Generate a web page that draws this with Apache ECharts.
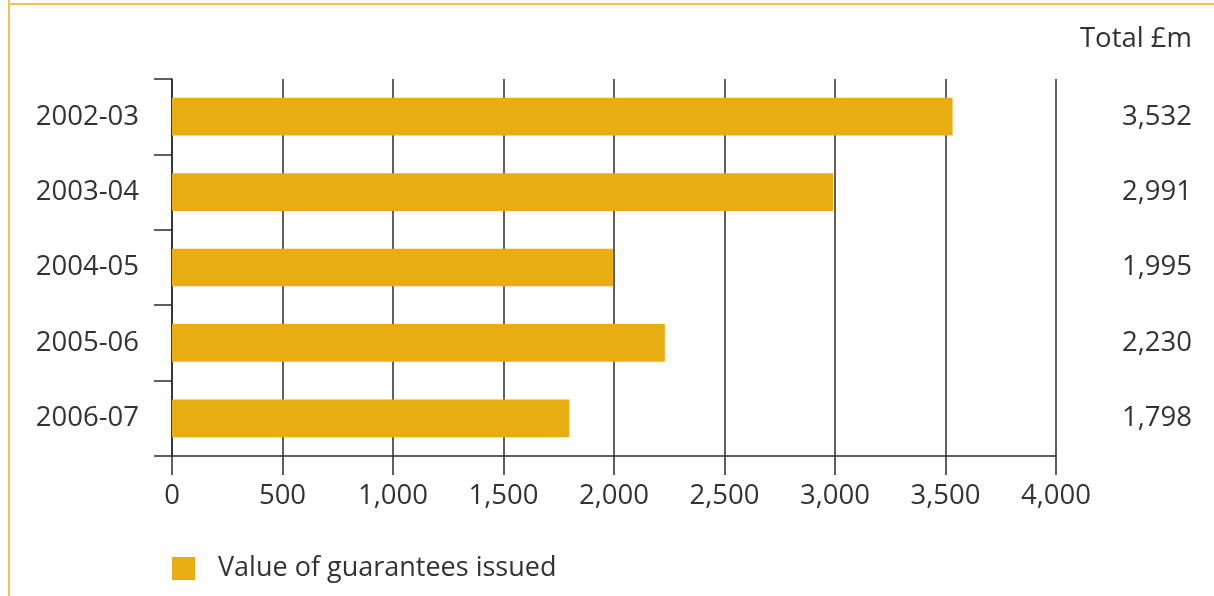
<!DOCTYPE html>
<html>
<head>
<meta charset="utf-8">
<script src="https://cdn.jsdelivr.net/npm/echarts@6/dist/echarts.min.js"></script>
<style>
html,body{margin:0;padding:0;background:#fff;}
#c{width:1214px;height:596px;}
</style>
</head>
<body>
<div id="c"></div>
<script>
const categories = ['2002-03', '2003-04', '2004-05', '2005-06', '2006-07'];
const values = [3532, 2991, 1995, 2230, 1798];
const seriesName = 'Value of guarantees issued';
const totalHeader = 'Total £m';
const xMin = 0, xMax = 4000, xInterval = 500;

const fmt = v => v.toLocaleString('en-GB');
const totals = values.map(fmt);

const FONT = '"Open Sans", "Noto Sans", sans-serif';
const TXT = '#333333';
const LINE = '#2b2b2b';
const BAR = '#E8AD11';
const FRAME = '#EFC253';
const FS = 27.5;

const chart = echarts.init(document.getElementById('c'), null, {renderer: 'canvas'});
chart.setOption({
  animation: false,
  backgroundColor: '#ffffff',
  textStyle: {fontFamily: FONT},
  title: {
    text: totalHeader,
    right: 17,
    top: 20,
    padding: 5,
    textStyle: {fontFamily: FONT, fontSize: FS, fontWeight: 'normal', color: TXT}
  },
  legend: {
    data: [seriesName],
    left: 167,
    top: 550,
    icon: 'rect',
    itemWidth: 23,
    itemHeight: 23,
    textStyle: {fontFamily: FONT, fontSize: 27, color: TXT, padding: [0, 0, 0, 18]}
  },
  grid: {left: 172, right: 158, top: 79, bottom: 140, containLabel: false},
  xAxis: {
    type: 'value',
    min: xMin, max: xMax, interval: xInterval,
    axisLine: {show: true, lineStyle: {color: LINE, width: 1.5}},
    axisTick: {show: true, length: 19, lineStyle: {color: LINE, width: 1.5}},
    axisLabel: {margin: 26, fontFamily: FONT, fontSize: FS, color: TXT, formatter: v => fmt(v)},
    splitLine: {show: true, lineStyle: {color: LINE, width: 1.5}}
  },
  yAxis: [{
    type: 'category',
    data: categories,
    inverse: true,
    axisLine: {show: true, lineStyle: {color: LINE, width: 1.5}},
    axisTick: {show: true, length: 18, alignWithLabel: false, lineStyle: {color: LINE, width: 1.5}},
    axisLabel: {margin: 33, fontFamily: FONT, fontSize: FS, color: TXT},
    splitLine: {show: false}
  }, {
    type: 'category',
    data: totals,
    inverse: true,
    position: 'right',
    axisLine: {show: false},
    axisTick: {show: false},
    axisLabel: {margin: 136, align: 'right', fontFamily: FONT, fontSize: FS, color: TXT},
    splitLine: {show: false}
  }],
  series: [{
    name: seriesName,
    type: 'bar',
    data: values,
    yAxisIndex: 0,
    barWidth: '50%',
    itemStyle: {color: BAR},
    silent: true
  }],
  graphic: [
    {type: 'line', shape: {x1: 9, y1: 0, x2: 9, y2: 596}, style: {stroke: FRAME, lineWidth: 2}},
    {type: 'line', shape: {x1: 8, y1: 4, x2: 1214, y2: 4}, style: {stroke: FRAME, lineWidth: 2}}
  ]
});
</script>
</body>
</html>
